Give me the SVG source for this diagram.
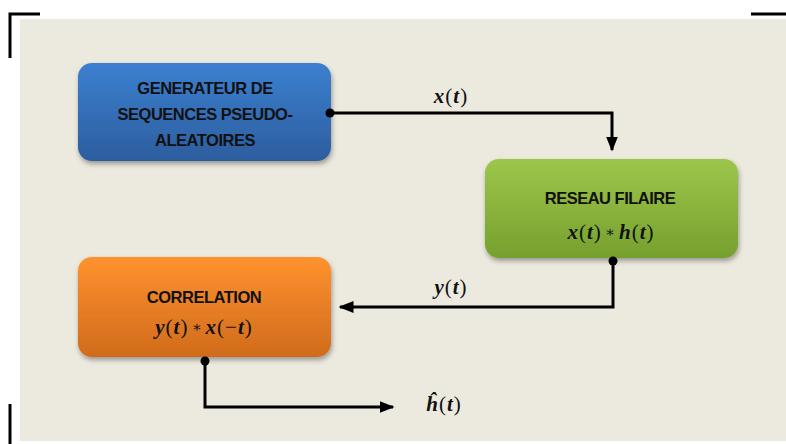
<svg xmlns="http://www.w3.org/2000/svg" width="786" height="444" viewBox="0 0 786 444">
<style>
.lbl{font-family:"Liberation Sans","Open Sans",sans-serif;font-weight:bold;font-size:16.5px;fill:#111;text-anchor:middle;letter-spacing:-0.5px}
.m{font-family:"Liberation Serif","DejaVu Serif",serif;font-weight:bold;font-style:italic;font-size:21px;fill:#111;text-anchor:middle;letter-spacing:1px}
.u{font-style:normal;font-weight:normal}
.op{font-style:normal;font-weight:normal;font-size:15px}
.wire{fill:none;stroke:#000;stroke-width:3}
.corner{fill:none;stroke:#000;stroke-width:3}
</style>
<defs>
<linearGradient id="gb" x1="0" y1="0" x2="0" y2="1"><stop offset="0" stop-color="#3C80D0"/><stop offset="1" stop-color="#2C5D9E"/></linearGradient>
<linearGradient id="gg" x1="0" y1="0" x2="0" y2="1"><stop offset="0" stop-color="#9CC64B"/><stop offset="1" stop-color="#76A02E"/></linearGradient>
<linearGradient id="go" x1="0" y1="0" x2="0" y2="1"><stop offset="0" stop-color="#FF922E"/><stop offset="1" stop-color="#D06B1C"/></linearGradient>
<filter id="sh" x="-10%" y="-10%" width="125%" height="130%"><feDropShadow dx="1" dy="3" stdDeviation="2.5" flood-color="#000" flood-opacity="0.35"/></filter>
<marker id="ah" viewBox="0 0 10 10" refX="9" refY="5" markerWidth="5" markerHeight="5" orient="auto" markerUnits="strokeWidth"><path d="M0,1 L10,5 L0,9 Z" fill="#000"/></marker>
</defs>
<rect x="20" y="19" width="766" height="422" fill="#ECE9DF"/>
<path class="corner" d="M10,58 V14 H40"/>
<path class="corner" d="M751,14 H786"/>
<path class="corner" d="M10,404 V444"/>
<g id="generateur">
<rect x="78" y="63" width="253" height="98" rx="14" fill="url(#gb)" filter="url(#sh)"/>
<text class="lbl" x="205" y="94">GENERATEUR DE</text>
<text class="lbl" x="205" y="120">SEQUENCES PSEUDO-</text>
<text class="lbl" x="205" y="146">ALEATOIRES</text>
</g>
<g id="reseau">
<rect x="485" y="159" width="253" height="99" rx="14" fill="url(#gg)" filter="url(#sh)"/>
<text class="lbl" x="610" y="204">RESEAU FILAIRE</text>
<text class="m" x="611" y="239">x<tspan class="u">(</tspan>t<tspan class="u">)</tspan><tspan class="op" dx="3" dy="-2">∗</tspan><tspan dx="3" dy="2">h</tspan><tspan class="u">(</tspan>t<tspan class="u">)</tspan></text>
</g>
<g id="correlation">
<rect x="78" y="257" width="253" height="100" rx="14" fill="url(#go)" filter="url(#sh)"/>
<text class="lbl" x="204" y="303">CORRELATION</text>
<text class="m" x="204" y="334">y<tspan class="u">(</tspan>t<tspan class="u">)</tspan><tspan class="op" dx="3" dy="-2">∗</tspan><tspan dx="3" dy="2">x</tspan><tspan class="u">(−</tspan>t<tspan class="u">)</tspan></text>
</g>
<g id="connectors">
<path class="wire" d="M330,113 H612 V150" marker-end="url(#ah)"/>
<circle cx="330" cy="113" r="4.5"/>
<path class="wire" d="M613,261 V307 H340" marker-end="url(#ah)"/>
<circle cx="613" cy="261" r="4.5"/>
<path class="wire" d="M205,361 V407 H393" marker-end="url(#ah)"/>
<circle cx="205" cy="361" r="4.5"/>
<text class="m" x="451" y="103">x<tspan class="u">(</tspan>t<tspan class="u">)</tspan></text>
<text class="m" x="451" y="294">y<tspan class="u">(</tspan>t<tspan class="u">)</tspan></text>
<text class="m" x="444" y="411">h&#x0302;<tspan class="u">(</tspan>t<tspan class="u">)</tspan></text>
</g>
</svg>
